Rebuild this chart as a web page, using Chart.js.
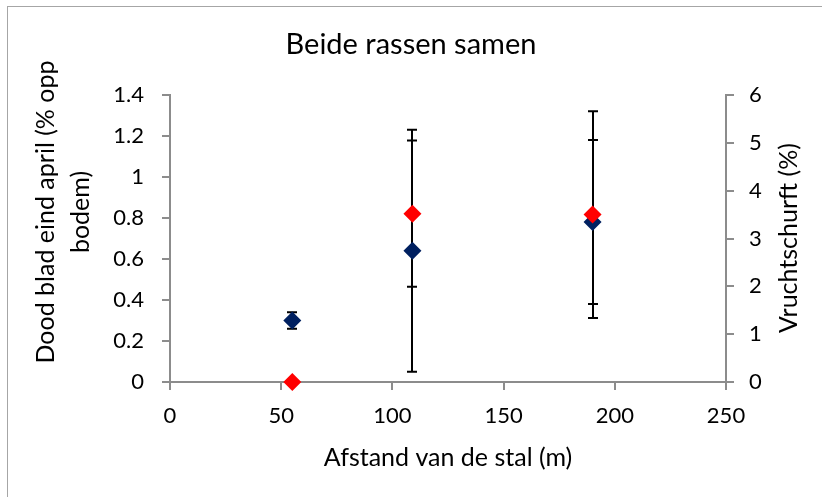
<!DOCTYPE html>
<html>
<head>
<meta charset="utf-8">
<title>Beide rassen samen</title>
<script src="https://cdn.jsdelivr.net/npm/chart.js@4/dist/chart.umd.min.js"></script>
<style>
  html, body { margin: 0; padding: 0; background: #fff; overflow: hidden; }
  #wrap { position: relative; width: 822px; height: 497px; overflow: hidden; }
  #frame { position: absolute; left: 7px; top: 6px; width: 840px; height: 520px; border: 1px solid #a6a6a6; }
  #chart { position: absolute; left: 0; top: 0; }
</style>
</head>
<body>
<div id="wrap">
  <div id="frame"></div>
  <canvas id="chart" width="822" height="497"></canvas>
</div>
<script>
// afstand tot de stal (m)
var afstand = [55, 109, 190];
// dood blad eind april (% opp bodem), met foutmarge
var doodBlad = [0.30, 0.64, 0.78];
var doodBladFout = [0.04, 0.59, 0.40];
// vruchtschurft (%), met foutmarge
var schurft = [0, 3.52, 3.50];
var schurftFout = [0, 1.53, 2.16];

// asverdeling
var xTicks = [0, 50, 100, 150, 200, 250];
var yTicks = [0, 0.2, 0.4, 0.6, 0.8, 1, 1.2, 1.4];
var y2Ticks = [0, 1, 2, 3, 4, 5, 6];

var lettertype = 'Lato, "Open Sans", sans-serif';
var asKleur = '#8c8c8c';

function punten(ys) {
  return afstand.map(function(x, i) { return {x: x, y: ys[i]}; });
}

function vasteTicks(lijst) {
  return function(scale) {
    scale.ticks = lijst.map(function(v) { return {value: v}; });
  };
}

function tickTekst(v) {
  return String(v);
}

// verticale foutbalken met dwarsstreepjes, onder de markers
var foutbalken = {
  id: 'foutbalken',
  beforeDatasetsDraw: function(chart) {
    var ctx = chart.ctx;
    chart.data.datasets.forEach(function(ds, i) {
      var meta = chart.getDatasetMeta(i);
      var xs = chart.scales[meta.xAxisID];
      var ys = chart.scales[meta.yAxisID];
      ctx.save();
      ctx.strokeStyle = '#000';
      ctx.lineWidth = 2;
      ds.data.forEach(function(p, j) {
        var e = ds.fout[j];
        if (!e) return;
        var x = Math.round(xs.getPixelForValue(p.x));
        var boven = ys.getPixelForValue(p.y + e);
        var onder = ys.getPixelForValue(p.y - e);
        ctx.beginPath();
        ctx.moveTo(x, boven); ctx.lineTo(x, onder);
        ctx.moveTo(x - 5, boven); ctx.lineTo(x + 5, boven);
        ctx.moveTo(x - 5, onder); ctx.lineTo(x + 5, onder);
        ctx.stroke();
      });
      ctx.restore();
    });
  }
};

// astitels van beide y-assen, allebei van onder naar boven gelezen
var asTitels = {
  id: 'asTitels',
  afterDraw: function(chart) {
    var ctx = chart.ctx;
    ctx.save();
    ctx.fillStyle = '#000';
    ctx.font = '25px ' + lettertype;
    ctx.textAlign = 'center';
    ctx.textBaseline = 'middle';
    ctx.translate(46, 212);
    ctx.rotate(-Math.PI / 2);
    ctx.fillText('Dood blad eind april (% opp', 0, 0);
    ctx.fillText('bodem)', 0, 35);
    ctx.restore();

    ctx.save();
    ctx.fillStyle = '#000';
    ctx.font = '25px ' + lettertype;
    ctx.textAlign = 'center';
    ctx.textBaseline = 'middle';
    ctx.translate(789, 238);
    ctx.rotate(-Math.PI / 2);
    ctx.fillText('Vruchtschurft (%)', 0, 0);
    ctx.restore();
  }
};

var ctx = document.getElementById('chart').getContext('2d');
var chart = new Chart(ctx, {
  type: 'scatter',
  data: {
    datasets: [{
      label: 'Dood blad',
      data: punten(doodBlad),
      fout: doodBladFout,
      yAxisID: 'y',
      pointStyle: 'rectRot',
      pointRadius: 9,
      pointBackgroundColor: '#002060',
      pointBorderWidth: 0,
      clip: false,
      order: 2
    }, {
      label: 'Vruchtschurft',
      data: punten(schurft),
      fout: schurftFout,
      yAxisID: 'y2',
      pointStyle: 'rectRot',
      pointRadius: 9,
      pointBackgroundColor: '#ff0000',
      pointBorderWidth: 0,
      clip: false,
      order: 1
    }]
  },
  options: {
    responsive: false,
    animation: false,
    layout: { padding: 0 },
    plugins: {
      legend: { display: false },
      tooltip: { enabled: false },
      title: {
        display: true,
        text: 'Beide rassen samen',
        color: '#000',
        font: { family: lettertype, size: 29, weight: 'normal', lineHeight: 1.2 },
        padding: { top: 27.6, bottom: 32.6 }
      }
    },
    scales: {
      x: {
        type: 'linear',
        min: xTicks[0],
        max: xTicks[xTicks.length - 1],
        afterBuildTicks: vasteTicks(xTicks),
        afterFit: function(s) { s.height = 115; },
        grid: { drawOnChartArea: false, tickLength: 8, color: asKleur, lineWidth: 2 },
        border: { color: asKleur, width: 2 },
        ticks: { color: '#000', padding: 13, maxRotation: 0, callback: tickTekst, font: { family: lettertype, size: 22 } },
        title: {
          display: true,
          text: 'Afstand van de stal (m)',
          color: '#000',
          font: { family: lettertype, size: 25, lineHeight: 1.2 },
          padding: { top: 0, bottom: 24 }
        }
      },
      y: {
        type: 'linear',
        position: 'left',
        min: yTicks[0],
        max: yTicks[yTicks.length - 1],
        afterBuildTicks: vasteTicks(yTicks),
        afterFit: function(s) { s.width = 170; },
        grid: { drawOnChartArea: false, tickLength: 8, color: asKleur, lineWidth: 2 },
        border: { color: asKleur, width: 2 },
        ticks: { color: '#000', padding: 18, callback: tickTekst, font: { family: lettertype, size: 22 } }
      },
      y2: {
        type: 'linear',
        position: 'right',
        min: y2Ticks[0],
        max: y2Ticks[y2Ticks.length - 1],
        afterBuildTicks: vasteTicks(y2Ticks),
        afterFit: function(s) { s.width = 96; },
        grid: { drawOnChartArea: false, tickLength: 8, color: asKleur, lineWidth: 2 },
        border: { color: asKleur, width: 2 },
        ticks: { color: '#000', padding: 15, callback: tickTekst, font: { family: lettertype, size: 22 } }
      }
    }
  },
  plugins: [foutbalken, asTitels]
});
</script>
</body>
</html>
